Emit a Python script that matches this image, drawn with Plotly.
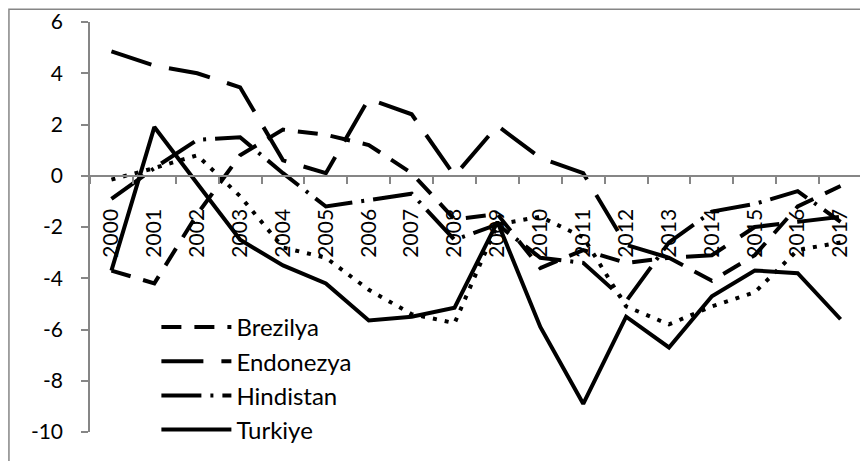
import plotly.graph_objects as go

years = [str(y) for y in range(2000, 2018)]

brezilya = [-3.7, -4.2, -1.5, 0.8, 1.8, 1.6, 1.2, 0.1, -1.7, -1.5,
            -3.6, -2.9, -3.4, -3.2, -4.1, -3.1, -1.2, -0.4]
endonezya = [4.85, 4.3, 4.0, 3.45, 0.6, 0.1, 3.0, 2.4, 0.0, 1.95,
             0.7, 0.1, -2.7, -3.2, -3.1, -2.0, -1.8, -1.6]
hindistan = [-0.9, 0.3, 1.4, 1.5, 0.1, -1.2, -0.95, -0.7, -2.5, -1.9,
             -3.2, -3.4, -4.9, -2.6, -1.4, -1.1, -0.6, -1.8]
turkiye = [-3.7, 1.9, -0.3, -2.5, -3.5, -4.2, -5.65, -5.5, -5.15, -1.8,
           -5.9, -8.9, -5.5, -6.7, -4.7, -3.7, -3.8, -5.6]
guney_afrika = [-0.15, 0.3, 0.8, -0.8, -2.8, -3.2, -4.45, -5.4, -5.75, -1.9,
                -1.6, -2.4, -5.1, -5.8, -5.1, -4.55, -2.9, -2.6]

y_ticks = [6, 4, 2, 0, -2, -4, -6, -8, -10]
y_labels = [str(v) for v in y_ticks]  # plain hyphen, like the original

FONT = "Lato"
AXIS = "#868686"

fig = go.Figure()

series = [
    ("Brezilya", brezilya, "20px,13px", True),
    ("Endonezya", endonezya, "42px,18px", True),
    ("Hindistan", hindistan, "40px,9px,3px,9px", True),
    ("Turkiye", turkiye, "solid", True),
    ("Güney Afrika", guney_afrika, "4px,8px", False),
]

for name, vals, dash, show in series:
    fig.add_trace(go.Scatter(
        x=years,
        y=vals,
        name=name,
        mode="lines",
        legendgroup=name,
        showlegend=show,
        line=dict(color="black", width=4, dash=dash),
    ))

# the page body has an 8px margin, so the figure is 8px smaller each way
fig.update_layout(
    width=860,
    height=453,
    margin=dict(l=82, r=6, t=14, b=29, autoexpand=False),
    plot_bgcolor="white",
    paper_bgcolor="white",
    font=dict(family=FONT, color="black", size=21),
    legend=dict(
        x=0.086, y=0.31, xanchor="left", yanchor="top",
        bgcolor="rgba(0,0,0,0)",
        font=dict(size=24, family=FONT),
        traceorder="grouped",
        tracegroupgap=0,
        itemwidth=70,
    ),
    xaxis=dict(
        type="category",
        range=[-0.5, len(years) - 0.5],
        anchor="free",
        position=0.625,
        automargin=False,
        showline=True,
        linecolor=AXIS,
        linewidth=1.5,
        ticks="outside",
        tickson="boundaries",
        ticklen=7,
        tickcolor=AXIS,
        tickwidth=1.5,
        tickangle=-90,
        showgrid=False,
        zeroline=False,
        tickfont=dict(size=21, family=FONT),
        ticklabelstandoff=24,
    ),
    yaxis=dict(
        range=[-10, 6],
        tickvals=y_ticks,
        ticktext=y_labels,
        automargin=False,
        showline=True,
        linecolor=AXIS,
        linewidth=1.5,
        ticks="outside",
        ticklen=7,
        tickcolor=AXIS,
        tickwidth=1.5,
        showgrid=False,
        zeroline=False,
        tickfont=dict(size=21, family=FONT),
        ticklabelstandoff=14,
        ticklabeloverflow="allow",
    ),
    shapes=[dict(
        type="rect", xref="paper", yref="paper",
        x0=-0.105, x1=1.2, y0=-0.3, y1=1.031,
        line=dict(color=AXIS, width=1.5),
        fillcolor="rgba(0,0,0,0)",
        layer="below",
    )],
)

fig.write_html("out.html")
